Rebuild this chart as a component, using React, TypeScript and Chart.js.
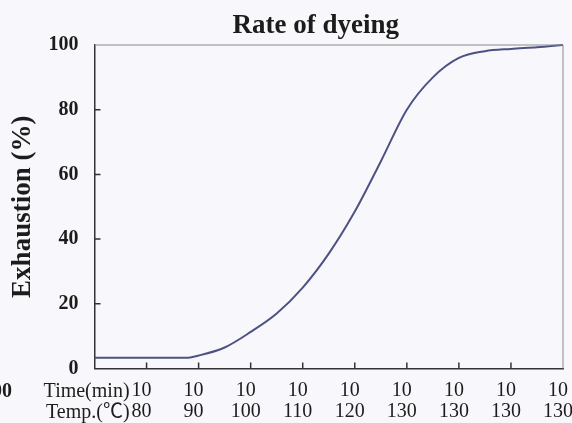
import React, { useEffect, useRef } from 'react';
import { Chart, registerables } from 'chart.js';

Chart.register(...registerables);

// time step index (one tick = one 10 min step) and exhaustion (%)
const timeSteps = [0, 1, 1.75, 2, 2.5, 3, 3.5, 4, 4.5, 5, 5.5, 6, 6.5, 7, 7.5, 8, 8.5, 9];
const exhaustion = [3.3, 3.3, 3.3, 4.0, 6.5, 11.3, 17, 25, 35.5, 48.5, 64, 80, 90, 96, 98.1, 98.8, 99.3, 100];

const timeLabels = ['10', '10', '10', '10', '10', '10', '10', '10', '10'];
const tempLabels = ['80', '90', '100', '110', '120', '130', '130', '130', '130'];

const SERIF = '"Liberation Serif", "Times New Roman", "Noto Sans CJK JP", serif';
const INK = '#1c1c1c';

const decorPlugin = {
    id: 'decor',
    afterDraw(chart: any) {
        const { ctx, chartArea } = chart;
        const { left, right, top, bottom } = chartArea;
        const x = chart.scales.x;
        const y = chart.scales.y;
        ctx.save();

        // top and right frame
        ctx.strokeStyle = '#8a8a8a';
        ctx.lineWidth = 1;
        ctx.beginPath();
        ctx.moveTo(left, top);
        ctx.lineTo(right, top);
        ctx.lineTo(right, bottom);
        ctx.stroke();

        // inward tick marks
        ctx.strokeStyle = '#333';
        ctx.lineWidth = 1.5;
        ctx.beginPath();
        y.ticks.forEach((t: any) => {
            if (t.value > 0 && t.value < 100) {
                const py = y.getPixelForValue(t.value);
                ctx.moveTo(left, py);
                ctx.lineTo(left + 6, py);
            }
        });
        x.ticks.forEach((t: any) => {
            if (t.value > 0 && t.value < 9) {
                const px = x.getPixelForValue(t.value);
                ctx.moveTo(px, bottom);
                ctx.lineTo(px, bottom - 6);
            }
        });
        ctx.stroke();

        // title
        ctx.fillStyle = INK;
        ctx.font = `bold 27px ${SERIF}`;
        ctx.textAlign = 'center';
        ctx.textBaseline = 'alphabetic';
        ctx.fillText('Rate of dyeing', (left + right) / 2 - 13, 33);

        // row captions in front of the first x label
        ctx.font = `20px ${SERIF}`;
        ctx.textAlign = 'right';
        ctx.textBaseline = 'middle';
        const capX = x.getPixelForValue(1) - 17;
        ctx.fillText('Time(min)', capX, bottom + 23);
        ctx.fillText('Temp.(℃)', capX, bottom + 44);

        // cut-off label from the neighbouring figure
        ctx.font = `bold 20px ${SERIF}`;
        ctx.fillText('100', 12, bottom + 23);
        ctx.restore();
    },
};

const App: React.FC = () => {
    const chartRef = useRef<HTMLCanvasElement>(null);
    const chartInstance = useRef<Chart | null>(null);

    useEffect(() => {
        if (!chartRef.current) return;
        const ctx = chartRef.current.getContext('2d');
        if (!ctx) return;

        chartInstance.current = new Chart(ctx, {
            type: 'line',
            data: {
                datasets: [{
                    data: timeSteps.map((t, i) => ({ x: t, y: exhaustion[i] })),
                    borderColor: '#4d5283',
                    borderWidth: 2,
                    pointRadius: 0,
                    cubicInterpolationMode: 'monotone',
                    fill: false,
                    clip: false,
                }],
            },
            options: {
                animation: false,
                responsive: true,
                maintainAspectRatio: false,
                layout: { padding: { top: 45, right: 9, left: 0, bottom: 0 } },
                plugins: {
                    legend: { display: false },
                    tooltip: { enabled: false },
                },
                scales: {
                    x: {
                        type: 'linear',
                        min: 0,
                        max: 9,
                        grid: { display: false, drawTicks: false },
                        border: { display: true, color: '#333', width: 1.5 },
                        afterFit: (s: any) => {
                            s.height = 54.5;
                            s.paddingLeft = 0;
                            s.paddingRight = 0;
                        },
                        ticks: {
                            stepSize: 1,
                            autoSkip: false,
                            maxRotation: 0,
                            padding: 12,
                            labelOffset: -5,
                            color: INK,
                            font: { family: SERIF, size: 20, lineHeight: 1.05 },
                            callback: (v: any) => {
                                const i = Number(v) - 1;
                                return i >= 0 ? [timeLabels[i], tempLabels[i]] : '';
                            },
                        },
                    },
                    y: {
                        min: 0,
                        max: 100,
                        grid: { display: false, drawTicks: false },
                        border: { display: true, color: '#333', width: 1.5 },
                        afterFit: (s: any) => {
                            s.width = 94.5;
                            s.paddingTop = 0;
                            s.paddingBottom = 0;
                        },
                        ticks: {
                            stepSize: 20,
                            padding: 16,
                            color: INK,
                            font: { family: SERIF, size: 20, weight: 'bold' },
                        },
                        title: {
                            display: true,
                            text: 'Exhaustion (%)',
                            color: INK,
                            font: { family: SERIF, size: 27, weight: 'bold' },
                            padding: { top: 7, bottom: 0 },
                        },
                    },
                },
            },
            plugins: [decorPlugin],
        });

        return () => {
            if (chartInstance.current) {
                chartInstance.current.destroy();
                chartInstance.current = null;
            }
        };
    }, []);

    return (
        <div style={{ position: 'fixed', left: 0, top: 0, width: 572, height: 423, background: '#f8f8fc' }}>
            <canvas ref={chartRef} />
        </div>
    );
};

export default App;
